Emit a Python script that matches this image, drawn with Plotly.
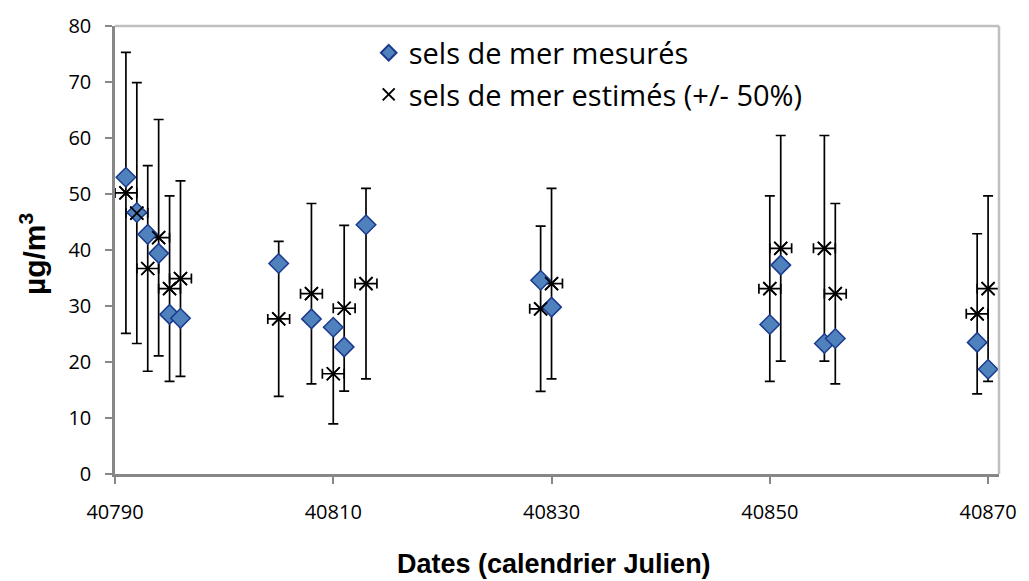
import plotly.graph_objects as go

# Julian dates (days)
days = [40791, 40792, 40793, 40794, 40795, 40796, 40805, 40808, 40810, 40811,
        40813, 40829, 40830, 40850, 40851, 40855, 40856, 40869, 40870]
# measured sea salts (µg/m3)
measured = [53.0, 46.7, 42.8, 39.4, 28.5, 27.8, 37.6, 27.7, 26.2, 22.7,
            44.5, 34.6, 29.8, 26.7, 37.3, 23.3, 24.2, 23.5, 18.7]
# estimated sea salts (µg/m3), +/- 50%
estimated = [50.2, 46.6, 36.7, 42.2, 33.1, 34.9, 27.7, 32.2, 17.9, 29.6,
             34.0, 29.5, 34.0, 33.1, 40.3, 40.3, 32.2, 28.6, 33.1]
err_pct = 50
err_days = 1

y_ticks = [0, 10, 20, 30, 40, 50, 60, 70, 80]
x_ticks = [40790, 40810, 40830, 40850, 40870]

fig = go.Figure()

# error bars of the estimated series (drawn beneath markers)
fig.add_trace(go.Scatter(
    x=days, y=estimated, mode="markers", showlegend=False, hoverinfo="skip",
    marker=dict(symbol="x-thin-open", size=13, color="black",
                line=dict(color="black", width=1.7)),
    error_y=dict(type="percent", value=err_pct, color="black", thickness=1.7, width=5),
    error_x=dict(type="constant", value=err_days, color="black", thickness=1.7, width=5),
))

fig.add_trace(go.Scatter(
    x=days, y=measured, mode="markers", name="sels de mer mesurés",
    legendgroup="m",
    marker=dict(symbol="diamond", size=15, color="#4f81bd",
                line=dict(color="#1c3a8c", width=1.5)),
))

fig.add_trace(go.Scatter(
    x=days, y=estimated, mode="markers", name="sels de mer estimés (+/- 50%)",
    legendgroup="e",
    marker=dict(symbol="x-thin-open", size=13, color="black",
                line=dict(color="black", width=1.7)),
))

fig.update_layout(
    width=1029, height=581,
    margin=dict(l=115, r=21, t=24, b=107),
    paper_bgcolor="white", plot_bgcolor="white",
    font=dict(family="Open Sans", color="black", size=20),
    showlegend=True,
    legend=dict(x=0.287, y=0.997, xanchor="left", yanchor="top",
                bgcolor="rgba(0,0,0,0)", font=dict(size=29),
                tracegroupgap=1, itemsizing="constant"),
    xaxis=dict(range=[40790, 40871], tickvals=x_ticks, ticktext=[str(v) for v in x_ticks],
               showgrid=False, zeroline=False, showline=True, linecolor="#878787",
               linewidth=2.5, mirror=False, ticks="outside", ticklen=7,
               tickcolor="#878787", tickwidth=2, ticklabelstandoff=11,
               tickfont=dict(size=20)),
    yaxis=dict(range=[0, 80], tickvals=y_ticks, showgrid=False, zeroline=False,
               showline=True, linecolor="#878787", linewidth=2.5, ticks="outside",
               ticklen=7, tickcolor="#878787", tickwidth=2, ticklabelstandoff=10,
               tickfont=dict(size=20)),
    shapes=[
        dict(type="line", xref="paper", yref="paper", x0=0, x1=1, y0=1, y1=1,
             line=dict(color="#bfbfbf", width=2.5)),
        dict(type="line", xref="paper", yref="paper", x0=1, x1=1, y0=0, y1=1,
             line=dict(color="#bfbfbf", width=2.5)),
    ],
    annotations=[
        dict(text="<b>Dates (calendrier Julien)</b>", xref="paper", yref="paper",
             x=(558 - 115) / 893, y=-(564 - 473.5) / 449.5, xanchor="center",
             yanchor="middle", showarrow=False,
             font=dict(family="Liberation Sans", size=27, color="black")),
        dict(text="<b>µg/m<sup>3</sup></b>", xref="paper", yref="paper",
             x=-(115 - 32) / 893, y=(473.5 - 253) / 449.5, xanchor="center",
             yanchor="middle", showarrow=False, textangle=-90,
             font=dict(family="Liberation Sans", size=30, color="black")),
    ],
)

fig.write_html("out.html")
